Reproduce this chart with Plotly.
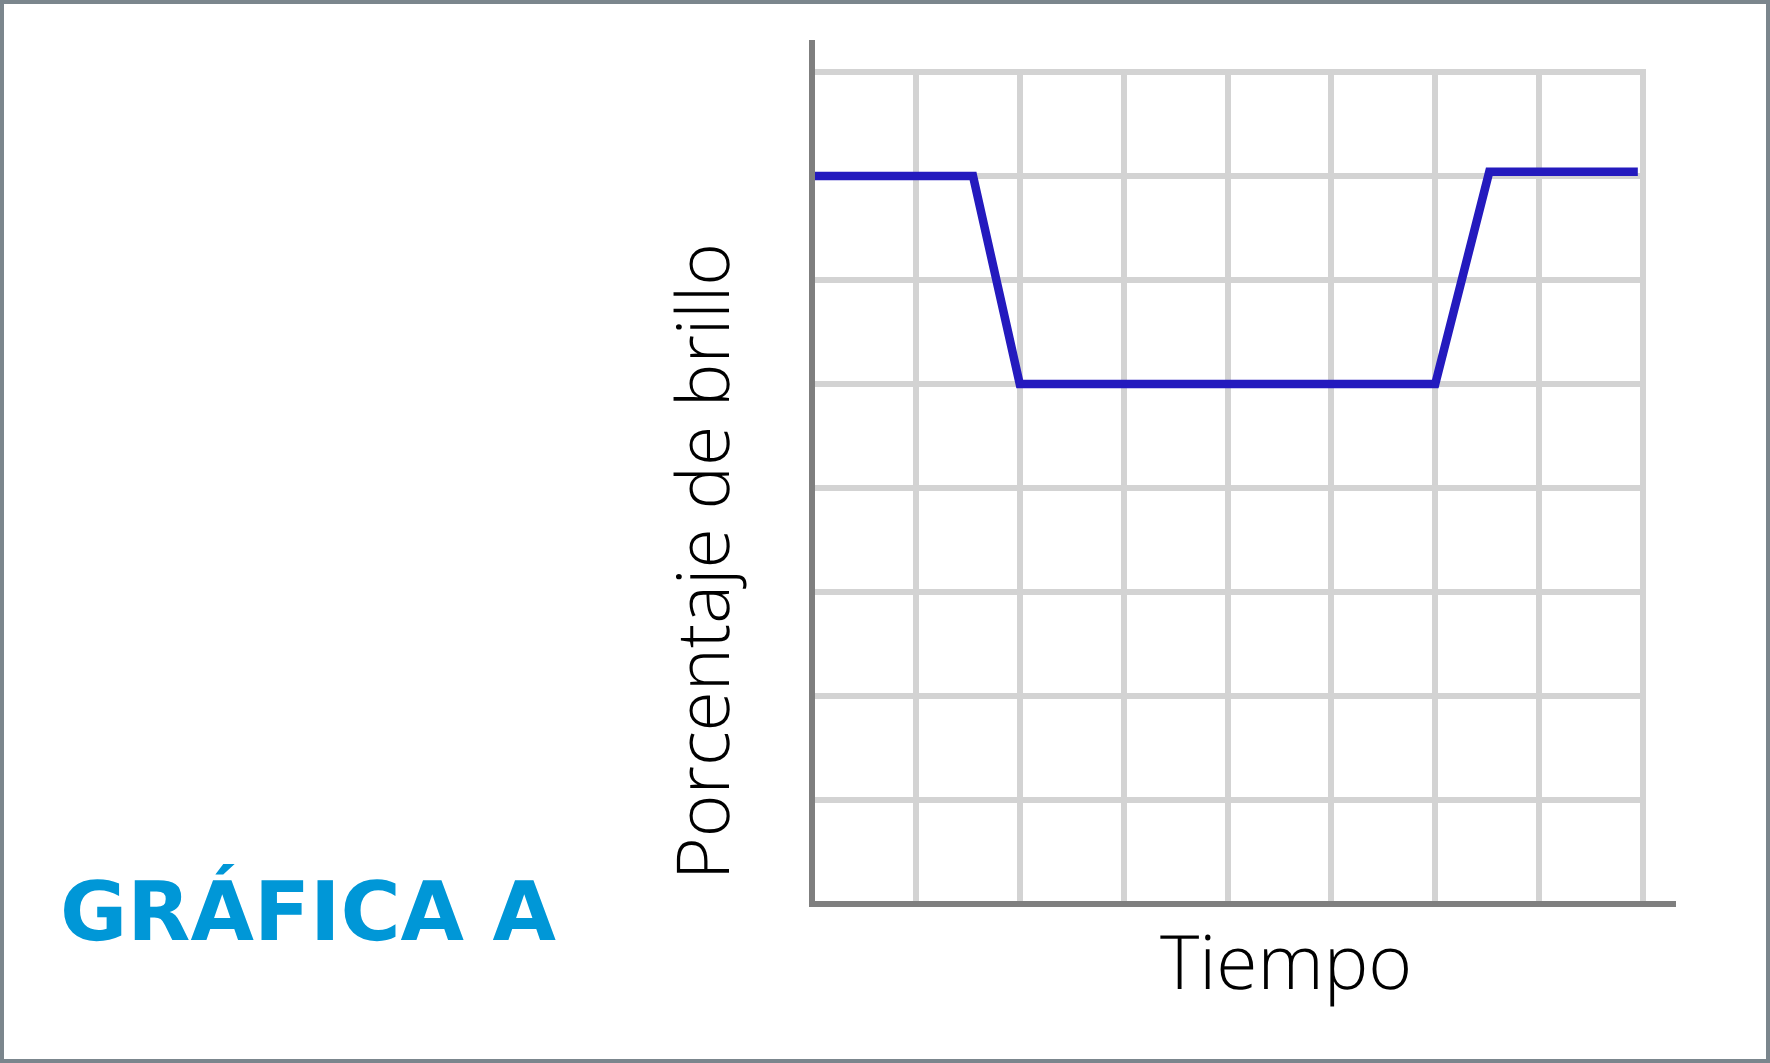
import plotly.graph_objects as go

# Data
tiempo = [0, 1.55, 2, 6, 6.52, 7.95]
brillo = [70, 70, 50, 50, 70.4, 70.4]
x_title = "Tiempo"
y_title = "Porcentaje de brillo"
chart_label = "GRÁFICA A"

W, H = 1770, 1063
PADPX = 3
GX0, GX1, GY0, GY1 = 812, 1643, 72, 904   # grid extents in pixels
L, R, T, B = GX0 - PADPX, W - GX1 - PADPX, GY0 - PADPX, H - GY1 - PADPX
PW, PH = W - L - R, H - T - B

def px(x):
    return (x - L) / PW

def py(y):
    return (H - B - y) / PH

xpad = PADPX * 8 / (GX1 - GX0)
ypad = PADPX * 80 / (GY1 - GY0)

fig = go.Figure()
fig.add_trace(go.Scatter(
    x=tiempo, y=brillo, mode="lines",
    line=dict(color="#241ABE", width=8.5),
    hoverinfo="skip", showlegend=False,
))

axis_common = dict(
    showgrid=True, gridcolor="#D3D3D3", gridwidth=6,
    showticklabels=False, ticks="", zeroline=False, showline=False,
)
fig.update_xaxes(range=[-xpad, 8 + xpad], dtick=1, tick0=0, **axis_common)
fig.update_yaxes(range=[-ypad, 80 + ypad], dtick=10, tick0=0, **axis_common)

# axis lines (extend beyond grid)
fig.add_shape(type="line", xref="paper", yref="paper",
              x0=px(812), x1=px(812), y0=py(907), y1=py(40),
              line=dict(color="#7F7F7F", width=6), layer="above")
fig.add_shape(type="line", xref="paper", yref="paper",
              x0=px(809), x1=px(1676), y0=py(904), y1=py(904),
              line=dict(color="#7F7F7F", width=6), layer="above")
# outer border
fig.add_shape(type="rect", xref="paper", yref="paper",
              x0=px(2), x1=px(W - 2), y0=py(H - 2), y1=py(2),
              line=dict(color="#7B868D", width=4), layer="above")

fig.add_annotation(text=x_title, xref="paper", yref="paper",
                   x=px(1286), y=py(960), xanchor="center", yanchor="middle",
                   showarrow=False,
                   font=dict(family="Open Sans", size=75, color="#000000", weight=300))
fig.add_annotation(text=y_title, xref="paper", yref="paper",
                   x=px(700), y=py(562), xanchor="center", yanchor="middle",
                   textangle=-90, showarrow=False,
                   font=dict(family="Open Sans", size=73, color="#000000", weight=300))
fig.add_annotation(text=chart_label, xref="paper", yref="paper",
                   x=px(309), y=py(911), xanchor="center", yanchor="middle",
                   showarrow=False,
                   font=dict(family="DejaVu Sans", size=82, color="#0097D7", weight=700))

fig.update_layout(
    width=W, height=H,
    margin=dict(l=L, r=R, t=T, b=B, pad=0),
    paper_bgcolor="white", plot_bgcolor="white",
)

fig.write_html(
    "out.html", config={"displayModeBar": False},
    post_script=(
        "document.body.style.margin='0px';"
        "document.body.style.textRendering='geometricPrecision';"
        "var d=document.getElementById('{plot_id}');"
        "d.style.transform='translateZ(0)';d.style.willChange='transform';"
    ),
)
